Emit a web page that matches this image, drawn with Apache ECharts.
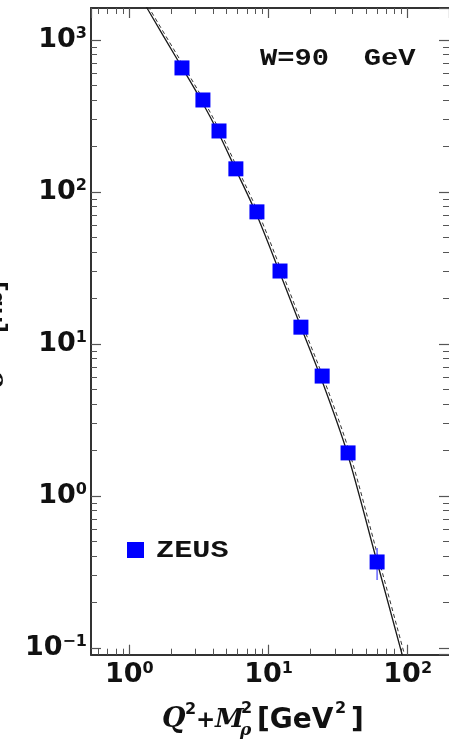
<!DOCTYPE html>
<html>
<head>
<meta charset="utf-8">
<script src="https://cdn.jsdelivr.net/npm/echarts@6/dist/echarts.min.js"></script>
<style>
  html, body { margin: 0; padding: 0; background: #fff; }
  #chart { width: 449px; height: 741px; }
</style>
</head>
<body>
<div id="chart"></div>
<script>
// ZEUS exclusive rho cross section at W = 90 GeV versus Q^2 + M_rho^2
const zeusQ2M2 = [2.39, 3.38, 4.41, 5.83, 8.26, 12.1, 17.1, 24.3, 37.3, 60.3];
const zeusSigma = [655, 403, 252, 142, 74, 30.2, 12.9, 6.15, 1.92, 0.368];
const zeusSigmaLow = [null, null, null, null, null, null, null, null, null, 0.28];
const zeusSigmaHigh = [null, null, null, null, null, null, null, null, null, 0.455];

// model curves (solid and dashed)
const solidQ2M2 = [1.254, 1.340, 2.313, 3.274, 4.337, 5.745, 8.13, 11.70, 16.56, 23.84, 36.64, 59.2, 91.0, 97.2];
const solidSigma = [1833, 1623, 695, 403, 248, 143.9, 72.7, 31.6, 13.95, 5.97, 1.948, 0.391, 0.0913, 0.0728];
const dashedQ2M2 = [1.30, 1.39, 2.41, 3.41, 4.51, 5.97, 8.46, 12.17, 17.2, 24.8, 38.1, 61.6, 94.6, 101.0];
const dashedSigma = [1833, 1623, 695, 403, 248, 143.9, 72.7, 31.6, 13.95, 5.97, 1.948, 0.391, 0.0913, 0.0728];

// axis ranges and decade ticks (the right frame edge sits at the page border)
const xRange = [0.5306, 198.1];
const yRange = [0.0903, 1623.6];
const xDecades = [-1, 0, 1, 2];
const yDecades = [-2, -1, 0, 1, 2, 3];
const minorMultipliers = [2, 3, 4, 5, 6, 7, 8, 9];

function pairs(xs, ys) { return xs.map((x, i) => [x, ys[i]]); }

function minorTicksLog(decades, range) {
  const lo = Math.log10(range[0]), hi = Math.log10(range[1]);
  const out = [];
  decades.forEach(d => minorMultipliers.forEach(m => {
    const v = Math.log10(m) + d;
    if (v > lo && v < hi) out.push(v);
  }));
  return out;
}

function powerLabel(v) {
  const l = Math.log10(v);
  const e = Math.round(l);
  if (Math.abs(l - e) > 1e-6) return '';
  const exp = e < 0 ? '\u2212' + (-e) : String(e);
  return '{b|10}{s|' + exp + '}';
}

const labelRich = {
  b: { fontFamily: 'DejaVu Sans', fontWeight: 'bold', fontSize: 27, lineHeight: 28, color: '#111' },
  s: { fontFamily: 'DejaVu Sans', fontWeight: 'bold', fontSize: 16, lineHeight: 16, color: '#111', verticalAlign: 'top' }
};

const frameLine = { show: true, onZero: false, lineStyle: { color: '#333', width: 2 } };
const majorTick = { show: true, inside: true, length: 10, lineStyle: { color: '#555', width: 1.2 } };

function minorAxis(position, range, decades) {
  return {
    type: 'value', position: position,
    min: Math.log10(range[0]), max: Math.log10(range[1]),
    axisLine: { show: false, onZero: false },
    axisLabel: { show: false },
    splitLine: { show: false },
    axisTick: { show: true, inside: true, length: 6, customValues: minorTicksLog(decades, range),
                lineStyle: { color: '#555', width: 1 } }
  };
}

const titleText = (text, x, y, family, size, extra) => ({
  type: 'text', x: x, y: y,
  style: Object.assign({ text: text, fontFamily: family, fontWeight: 'bold', fontSize: size,
                         fill: '#111', align: 'left', verticalAlign: 'middle' }, extra || {})
});

const chart = echarts.init(document.getElementById('chart'), null, { renderer: 'canvas' });

const option = {
  animation: false,
  backgroundColor: '#fff',
  grid: { left: 91, top: 8, width: 358, height: 646.7, containLabel: false },
  xAxis: [
    { type: 'log', position: 'bottom', min: xRange[0], max: xRange[1],
      axisLine: frameLine, axisTick: majorTick, splitLine: { show: false },
      axisLabel: { show: true, margin: 6, showMinLabel: false, showMaxLabel: false,
                   formatter: powerLabel, rich: labelRich } },
    { type: 'log', position: 'top', min: xRange[0], max: xRange[1],
      axisLine: frameLine, axisTick: majorTick, splitLine: { show: false }, axisLabel: { show: false } },
    minorAxis('bottom', xRange, xDecades),
    minorAxis('top', xRange, xDecades)
  ],
  yAxis: [
    { type: 'log', position: 'left', min: yRange[0], max: yRange[1],
      axisLine: frameLine, axisTick: majorTick, splitLine: { show: false },
      axisLabel: { show: true, margin: 4, showMinLabel: false, showMaxLabel: false,
                   formatter: powerLabel, rich: labelRich } },
    { type: 'log', position: 'right', min: yRange[0], max: yRange[1],
      axisLine: { show: false, onZero: false }, axisTick: majorTick, splitLine: { show: false },
      axisLabel: { show: false } },
    minorAxis('left', yRange, yDecades),
    minorAxis('right', yRange, yDecades)
  ],
  legend: {
    left: 127, top: 542, padding: 0, itemWidth: 17, itemHeight: 16, icon: 'rect',
    data: ['ZEUS'], formatter: () => '', selectedMode: false
  },
  graphic: [
    { type: 'text', x: 260, y: 59, scaleX: 1.2,
      style: { text: 'W=90  GeV', fontFamily: 'Liberation Mono', fontWeight: 'bold', fontSize: 24,
               fill: '#111', align: 'left', verticalAlign: 'middle' } },
    { type: 'text', x: 156, y: 551, scaleX: 1.26,
      style: { text: 'ZEUS', fontFamily: 'Liberation Mono', fontWeight: 'bold', fontSize: 24,
               fill: '#111', align: 'left', verticalAlign: 'middle' } },
    // vertical axis title, reading upwards
    { type: 'text', x: -4, y: 378, rotation: Math.PI / 2,
      style: { text: 'σ', fontFamily: 'DejaVu Serif', fontStyle: 'italic', fontWeight: 'bold', fontSize: 27,
               fill: '#111', align: 'center', verticalAlign: 'middle' } },
    { type: 'text', x: -5, y: 307, rotation: Math.PI / 2,
      style: { text: '[nb]', fontFamily: 'Liberation Sans', fontWeight: 'bold', fontSize: 27,
               fill: '#111', align: 'center', verticalAlign: 'middle' } },
    // horizontal axis title: Q^2 + M_rho^2 [GeV^2]
    titleText('Q', 162, 720, 'DejaVu Serif', 27, { fontStyle: 'italic' }),
    titleText('2', 185, 710, 'DejaVu Sans', 16),
    titleText('+', 196, 721, 'DejaVu Sans', 23),
    titleText('M', 215, 720, 'DejaVu Serif', 26, { fontStyle: 'italic' }),
    titleText('2', 241, 709, 'DejaVu Sans', 16),
    titleText('ρ', 240, 731, 'DejaVu Serif', 17, { fontStyle: 'italic' }),
    titleText('[GeV', 257, 721, 'DejaVu Sans', 28),
    titleText('2', 335, 709, 'DejaVu Sans', 16),
    titleText(']', 351, 721, 'DejaVu Sans', 28)
  ],
  series: [
    {
      name: 'model', type: 'line', xAxisIndex: 0, yAxisIndex: 0,
      data: pairs(solidQ2M2, solidSigma), showSymbol: false, smooth: 0.3, clip: true,
      lineStyle: { color: '#1a1a1a', width: 1.3 }, z: 2, silent: true
    },
    {
      name: 'model dashed', type: 'line', xAxisIndex: 0, yAxisIndex: 0,
      data: pairs(dashedQ2M2, dashedSigma), showSymbol: false, smooth: 0.3, clip: true,
      lineStyle: { color: '#333', width: 1, type: [4, 3] }, z: 2, silent: true
    },
    {
      name: 'ZEUS errors', type: 'custom', xAxisIndex: 0, yAxisIndex: 0,
      data: zeusQ2M2.map((x, i) => [x, zeusSigmaLow[i], zeusSigmaHigh[i]])
              .filter(d => d[1] !== null),
      renderItem: function (params, api) {
        const lo = api.coord([api.value(0), api.value(1)]);
        const hi = api.coord([api.value(0), api.value(2)]);
        return { type: 'line', shape: { x1: lo[0], y1: lo[1], x2: hi[0], y2: hi[1] },
                 style: { stroke: '#7070ff', lineWidth: 1.6 } };
      },
      z: 3, silent: true
    },
    {
      name: 'ZEUS', type: 'scatter', xAxisIndex: 0, yAxisIndex: 0,
      data: pairs(zeusQ2M2, zeusSigma), symbol: 'rect', symbolSize: 15,
      itemStyle: { color: '#0000ff', opacity: 1 }, z: 4
    }
  ]
};

chart.setOption(option);
</script>
</body>
</html>
